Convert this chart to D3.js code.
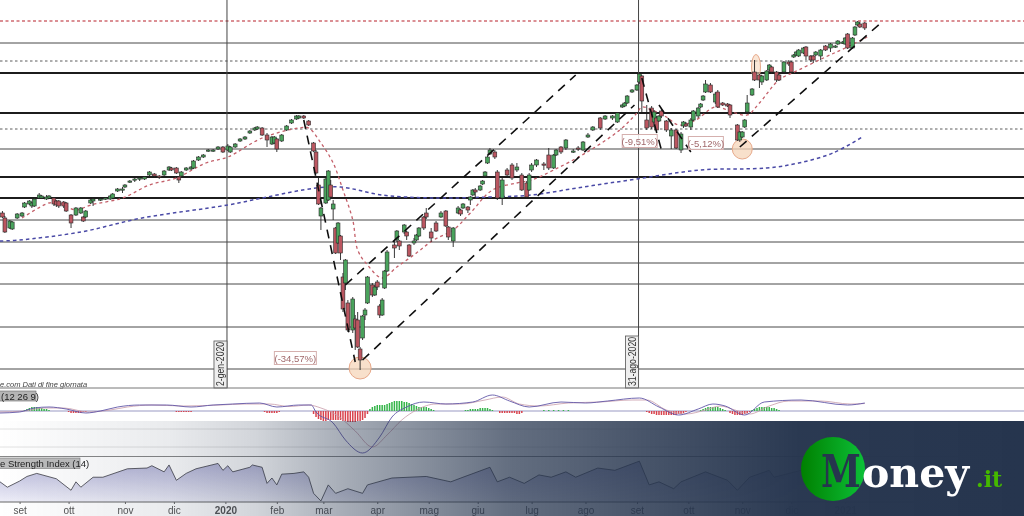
<!DOCTYPE html>
<html><head><meta charset="utf-8">
<style>html,body{margin:0;padding:0;background:#fff}svg{display:block}</style>
<script src="https://cdn.jsdelivr.net/npm/d3@7/dist/d3.min.js"></script>
</head><body><svg id="c" width="1024" height="516"></svg>
<script>
// ---------- DATA ----------
const sessions=[1,2,4,5,7,9,10,12,13,14,16,17,19,20,22,23,24,26,27,29,31,33,34,35,37,38,41,43,45,46,48,50,51,53,55,57,59,61,63,65,67,69,70,72,73,74,76,78,79,81,83,85,87,89,91,93,94,96,98,100,102,104,105,107,109,111,112,113,115,117,119,121,122,124,126,128,129,130,131,133,134,135,136,137,138,139,140,141,142,144,145,146,147,148,149,150,152,153,154,155,156,157,158,161,162,163,165,166,167,169,170,171,173,174,176,178,180,182,183,185,187,188,189,191,192,193,194,196,197,198,199,200,202,203,205,207,209,211,213,215,216,217,219,222,224,226,227,229,231,234,236,238,240,242,245,247,250,252,254,255,256,258,260,261,262,264,266,267,268,269,270,272,274,276,278,279,280,282,283,285,286,287,288,290,292,293,295,297,298,301,302,303,304,305,307,308,310,311,313,314,315,317,318,320,322,323,324,325,326,328,329,331,332,333,335,337,339,341,342,344,345,346,348,349,350,351,353];
const opens=[2820,2800,2760,2756,2800,2808,2844,2856,2848,2848,2880,2880,2876,2880,2880,2868,2868,2864,2860,2812,2812,2820,2804,2804,2860,2868,2872,2876,2876,2880,2908,2912,2924,2944,2952,2956,2956,2972,2976,2968,2972,2992,3000,3000,2964,2968,2992,2996,3000,3032,3044,3068,3068,3076,3084,3072,3064,3084,3108,3116,3140,3152,3156,3160,3132,3096,3100,3116,3108,3152,3180,3196,3200,3208,3188,3100,3064,2932,2808,2860,2872,2932,2836,2760,2700,2728,2564,2540,2460,2352,2396,2392,2276,2320,2412,2460,2532,2492,2544,2448,2412,2520,2588,2692,2712,2708,2744,2744,2692,2700,2712,2728,2804,2820,2744,2780,2804,2828,2764,2708,2820,2832,2840,2844,2872,2892,2912,2912,2936,2968,3020,3056,3064,2984,2880,2992,3012,2992,2972,2940,2912,2992,3012,3016,3052,3000,3052,3084,3080,3064,3080,3072,3124,3152,3200,3196,3200,3184,3244,3248,3260,3304,3312,3344,3368,3192,3240,3184,3200,3188,3228,3188,3128,3152,3072,3168,3176,3164,3192,3208,3244,3272,3304,3332,3264,3304,3260,3256,3252,3172,3112,3124,3164,3224,3292,3384,3372,3344,3352,3392,3404,3384,3372,3384,3424,3424,3444,3452,3448,3460,3484,3448,3448,3452,3448,3488,3480,3484,3496,3500,3496,3536,3480,3532,3572,3576,3580];
const closes=[2804,2744,2788,2784,2816,2820,2860,2868,2860,2876,2892,2888,2884,2888,2856,2852,2848,2848,2828,2780,2840,2840,2788,2828,2872,2876,2876,2880,2888,2896,2916,2916,2932,2948,2956,2960,2964,2984,2968,2964,2988,3004,2992,2980,2952,2984,3000,3004,3028,3044,3052,3072,3072,3084,3064,3088,3084,3096,3116,3124,3148,3160,3164,3132,3112,3124,3124,3076,3132,3168,3192,3208,3208,3200,3172,3068,2980,2856,2840,2956,2988,2884,2856,2660,2780,2660,2436,2632,2352,2476,2360,2284,2232,2408,2432,2564,2492,2524,2524,2412,2472,2588,2664,2680,2748,2688,2772,2728,2648,2708,2732,2760,2760,2804,2720,2748,2820,2768,2724,2760,2840,2816,2856,2832,2884,2912,2904,2928,2948,2984,3044,3072,3044,2880,2952,2972,2960,3004,2912,2884,2972,3012,3032,3012,3000,3052,3072,3064,3112,3068,3076,3104,3132,3164,3160,3208,3208,3220,3252,3260,3288,3312,3332,3376,3268,3160,3164,3224,3152,3208,3208,3152,3152,3080,3136,3184,3168,3192,3228,3240,3256,3288,3336,3304,3296,3244,3252,3248,3212,3112,3144,3144,3192,3260,3316,3352,3352,3368,3388,3412,3384,3352,3352,3424,3416,3384,3452,3464,3472,3480,3448,3432,3432,3464,3472,3472,3496,3488,3508,3504,3520,3480,3520,3564,3584,3564,3560];
const highs=[2828,2808,2792,2788,2820,2824,2864,2872,2864,2880,2900,2892,2892,2892,2884,2872,2872,2868,2864,2816,2844,2844,2808,2832,2876,2880,2880,2884,2892,2900,2920,2924,2936,2952,2960,2964,2968,2988,2980,2972,2992,3008,3004,3004,2968,2988,3004,3008,3032,3048,3056,3076,3076,3088,3088,3096,3088,3100,3120,3128,3152,3164,3168,3164,3140,3128,3128,3120,3136,3172,3196,3212,3212,3212,3192,3104,3072,2964,2844,2960,2992,2952,2872,2764,2784,2732,2580,2636,2472,2484,2412,2424,2284,2412,2440,2568,2540,2532,2552,2456,2480,2592,2672,2712,2752,2712,2776,2748,2696,2720,2736,2764,2808,2840,2760,2788,2828,2832,2768,2764,2848,2836,2860,2848,2888,2916,2920,2932,2952,2988,3048,3080,3072,2992,2960,3000,3020,3020,2980,2948,2980,3020,3036,3024,3080,3056,3076,3088,3116,3076,3088,3108,3140,3168,3204,3212,3212,3224,3256,3264,3292,3316,3336,3380,3372,3252,3248,3232,3208,3212,3240,3192,3160,3156,3144,3188,3184,3200,3232,3244,3260,3292,3352,3340,3304,3312,3264,3260,3256,3176,3148,3148,3196,3292,3320,3432,3376,3372,3392,3416,3408,3388,3376,3428,3432,3428,3456,3468,3476,3484,3488,3452,3452,3468,3476,3492,3500,3492,3512,3508,3524,3540,3524,3568,3588,3584,3584];
const lows=[2800,2740,2756,2752,2796,2804,2840,2852,2840,2844,2876,2876,2872,2876,2848,2844,2840,2840,2824,2760,2808,2816,2784,2800,2856,2848,2868,2872,2872,2876,2904,2900,2920,2940,2944,2948,2952,2968,2964,2956,2968,2988,2988,2976,2940,2964,2988,2992,2996,3028,3040,3064,3064,3072,3060,3068,3060,3080,3104,3112,3136,3148,3152,3128,3084,3092,3096,3064,3104,3148,3176,3192,3196,3196,3168,3064,2976,2852,2752,2856,2868,2876,2792,2656,2696,2632,2424,2512,2344,2340,2272,2280,2192,2312,2392,2456,2484,2488,2512,2400,2408,2516,2584,2640,2704,2672,2736,2712,2644,2692,2708,2724,2752,2796,2704,2744,2800,2764,2712,2684,2816,2808,2836,2820,2852,2888,2880,2908,2932,2964,3016,3052,3036,2872,2852,2964,2952,2984,2908,2880,2908,2984,3004,2992,2992,2996,3048,3056,3072,3060,3068,3068,3120,3148,3152,3192,3192,3180,3240,3244,3256,3300,3308,3336,3224,3152,3156,3176,3144,3184,3200,3144,3076,3076,3060,3160,3164,3152,3188,3200,3240,3268,3300,3300,3256,3240,3248,3244,3200,3108,3104,3120,3160,3220,3288,3348,3320,3332,3348,3384,3376,3344,3348,3380,3408,3380,3440,3448,3444,3456,3432,3424,3420,3448,3432,3468,3464,3480,3492,3496,3492,3476,3476,3528,3568,3560,3552];

const redMASessions=[9,20,24,31,37,50,61,72,84,93,107,122,126,131,136,140,144,146,150,156,162,170,177,185,192,201,211,217,226,239,253,260,262,266,272,277,284,292,299,305,310,318,326,337,345,354];
const redMAValues=[2800,2860,2860,2832,2852,2880,2932,2960,3020,3044,3120,3160,3160,3100,3020,2912,2792,2672,2612,2560,2604,2660,2712,2752,2820,2912,2940,2952,2992,3060,3152,3220,3244,3232,3204,3172,3192,3244,3224,3212,3260,3352,3392,3444,3480,3524];
const blueMASessions=[0,8,33,58,93,109,129,139,156,177,200,217,238,260,286,313,326,340,352];
const blueMAValues=[2708,2712,2744,2800,2852,2884,2920,2924,2892,2880,2884,2892,2924,2956,2992,3000,3020,3060,3124];

const levels=[3500,3380,3220,3076,2964,2880,2792,2704,2620,2536,2364,2196];
const levelWeights=[1,1.8,1.8,1.2,1.8,1.8,1,1,1,1,1,1];
const dashedLevels=[3428,3156];
const resistance=3588;

const trendFromSession=[124,141,148,262,269,302];
const trendFromValue=[3192,2532,2232,3360,3252,3084];
const trendToSession=[145,235,259,270,282,360];
const trendToValue=[2224,3372,3252,3072,3064,3584];

const dateMarks=[92,260];
const dateMarkLabels=["2-gen-2020","31-ago-2020"];
const drawdownLabels=["(-34,57%)","(-9,51%)","(-5,12%)"];
const drawdownSessions=[112,254,281];
const drawdownValues=[2240,3108,3100];
const circleSessions=[147,303];
const circleValues=[2200,3076];

const macdSessions=[0,8,14,20,27,35,41,48,57,68,78,87,95,106,113,122,127,129,136,141,148,155,160,166,173,182,193,201,208,216,229,239,248,261,269,277,285,291,296,304,312,327,346,353];
const macdValues=[-4,-2,6,8,4,-4,0,8,12,12,8,12,14,16,8,12,12,-2,-24,-58,-84,-52,-12,8,18,14,18,32,20,8,18,16,20,26,8,-8,4,14,10,-8,18,22,12,16];
const signalSessions=[0,10,18,26,36,45,52,62,75,90,100,110,118,126,131,138,145,152,158,164,170,178,188,198,205,212,220,232,245,258,264,272,280,288,294,300,306,314,322,335,347,353];
const signalValues=[-2,0,6,6,-2,2,8,12,10,12,14,14,9,12,6,-10,-40,-72,-48,-18,2,14,14,22,28,14,10,16,18,22,22,2,-6,2,10,2,-6,10,20,20,14,15];
const histSessions=[10,11,12,13,14,15,16,17,18,19,20,28,29,30,31,32,33,34,35,72,73,74,75,76,77,78,108,109,110,111,112,113,114,128,129,130,131,132,133,134,135,136,137,138,139,140,141,142,143,144,145,146,147,148,149,150,151,152,153,154,155,156,157,158,159,160,161,162,163,164,165,166,167,168,169,170,171,172,173,174,175,176,177,190,191,192,193,194,195,196,197,198,199,200,201,204,205,206,207,208,209,210,211,212,213,222,224,226,228,230,232,264,265,266,267,268,269,270,271,272,273,274,275,276,277,278,279,280,286,287,288,289,290,291,292,293,294,295,296,298,299,300,301,302,303,304,305,306,307,308,309,310,311,312,313,314,315,316,317,318];
const histValues=[2,4,6,8,8,8,6,6,4,4,2,-2,-4,-4,-4,-4,-4,-2,-2,-2,-2,-2,-2,-2,-2,-2,-2,-4,-4,-4,-4,-4,-2,-6,-12,-16,-18,-20,-20,-18,-18,-18,-18,-18,-18,-20,-20,-22,-22,-22,-22,-20,-20,-18,-14,-6,4,8,10,12,12,12,12,14,16,18,20,20,20,20,18,18,16,14,12,10,8,8,8,8,6,4,2,2,2,4,4,4,4,6,6,6,6,4,2,-4,-4,-4,-4,-4,-4,-4,-6,-6,-4,2,2,2,2,2,2,-2,-4,-6,-6,-8,-8,-8,-8,-8,-8,-8,-8,-8,-6,-6,-4,-2,2,4,6,8,8,8,8,8,6,4,2,-4,-6,-8,-8,-8,-8,-6,-4,-2,2,4,6,8,8,8,8,8,6,6,4,2];

const rsiSessions=[0,3,8,11,15,23,29,31,33,38,42,52,60,62,67,69,72,76,80,89,91,93,95,102,103,107,109,111,113,115,120,124,126,128,131,134,137,142,148,150,160,174,184,189,200,203,208,214,220,225,231,235,244,251,261,265,269,275,278,288,297,301,306,314,316,327,339,353];
const rsiValues=[45,38,46,52,56,49,34,45,38,51,51,62,63,66,58,67,47,56,62,69,60,66,58,64,67,64,43,50,41,55,56,58,51,30,20,41,30,36,30,41,50,52,45,51,64,45,51,43,54,51,58,51,63,60,72,41,45,36,45,58,47,34,51,60,51,60,66,71];

const monthSessions=[8,28,51,71,92,113,132,154,175,195,217,239,260,281,303,323,345];
const monthLabels=["set","ott","nov","dic","2020","feb","mar","apr","mag","giu","lug","ago","set","ott","nov","dic","2021"];

// ---------- SCALES ----------
const W=1024,H=516,priceBottom=388;
const x=d3.scaleLinear().domain([0,418]).range([0,W]);
const y=d3.scaleLinear().domain([3672,2120]).range([0,priceBottom]);
const yM=d3.scaleLinear().domain([-100,100]).range([461,361]);
const yR=d3.scaleLinear().domain([20,80]).range([501,455]);

const svg=d3.select("#c");
const defs=svg.append("defs");
const ov=defs.append("linearGradient").attr("id","ov");
[[0,0],[.166,.1],[.25,.21],[.332,.4],[.5,.72],[.625,.84],[.78,.98],[1,1]].forEach(d=>ov.append("stop").attr("offset",d[0]).attr("stop-color","#26354e").attr("stop-opacity",d[1]));
const ra=defs.append("linearGradient").attr("id","ra").attr("gradientUnits","userSpaceOnUse").attr("x1",0).attr("x2",0).attr("y1",460).attr("y2",502);
ra.append("stop").attr("offset",0).attr("stop-color","#b2b2d6");
ra.append("stop").attr("offset",1).attr("stop-color","#eeeef8");
const lg=defs.append("linearGradient").attr("id","lg");
lg.append("stop").attr("offset",0).attr("stop-color","#008000");
lg.append("stop").attr("offset",1).attr("stop-color","#0cc038");
defs.append("filter").attr("id","soft").attr("x",0).attr("y",0).attr("width",1).attr("height",1)
  .append("feGaussianBlur").attr("stdDeviation",0.45);

const chart=svg.append("g").attr("filter","url(#soft)");
chart.append("rect").attr("width",W).attr("height",H).attr("fill","#fff");

// price panel levels
chart.selectAll(".lvl").data(levels).join("line").attr("x1",0).attr("x2",W)
  .attr("y1",d=>y(d)).attr("y2",d=>y(d)).attr("stroke",(d,i)=>levelWeights[i]>1.5?"#1c1c1c":"#484848")
  .attr("stroke-width",(d,i)=>levelWeights[i]);
chart.selectAll(".dl").data(dashedLevels).join("line").attr("x1",0).attr("x2",W)
  .attr("y1",d=>y(d)).attr("y2",d=>y(d)).attr("stroke","#333").attr("stroke-width",.8).attr("stroke-dasharray","2.5,2.5");
chart.append("line").attr("x1",0).attr("x2",W).attr("y1",y(resistance)).attr("y2",y(resistance))
  .attr("stroke","#b8202a").attr("stroke-width",1.2).attr("stroke-dasharray","3,2.5");

// date verticals
chart.selectAll(".dm").data(dateMarks).join("line")
  .attr("x1",d=>x(d)+1.6).attr("x2",d=>x(d)+1.6).attr("y1",0).attr("y2",priceBottom)
  .attr("stroke","#444").attr("stroke-width",1);

// moving averages
const line=d3.line().curve(d3.curveCatmullRom);
chart.append("path").attr("d",line(blueMASessions.map((s,i)=>[x(s),y(blueMAValues[i])])))
  .attr("fill","none").attr("stroke","#4a4aa6").attr("stroke-width",1.5).attr("stroke-dasharray","3.5,3");
chart.append("path").attr("d",line(redMASessions.map((s,i)=>[x(s),y(redMAValues[i])])))
  .attr("fill","none").attr("stroke","#c4606a").attr("stroke-width",1.3).attr("stroke-dasharray","3,3");

// circles
chart.selectAll(".ci").data(circleSessions).join("circle")
  .attr("cx",d=>x(d)).attr("cy",(d,i)=>y(circleValues[i])).attr("r",(d,i)=>i?10:11)
  .attr("fill","#f6d5ba").attr("fill-opacity",.75).attr("stroke","#e7a98a");
chart.append("ellipse").attr("cx",x(308.6)).attr("cy",y(3404)).attr("rx",4.5).attr("ry",12.5)
  .attr("fill","#f6d5ba").attr("fill-opacity",.6).attr("stroke","#e7a98a");

// candles
const cg=chart.selectAll(".cd").data(sessions).join("g");
cg.append("line").attr("x1",d=>x(d)).attr("x2",d=>x(d))
  .attr("y1",(d,i)=>y(highs[i])).attr("y2",(d,i)=>y(lows[i])).attr("stroke","#222").attr("stroke-width",.9);
cg.append("rect").attr("x",d=>x(d)-1.9).attr("width",3.8)
  .attr("y",(d,i)=>y(Math.max(opens[i],closes[i])))
  .attr("height",(d,i)=>Math.max(1.2,Math.abs(y(opens[i])-y(closes[i]))))
  .attr("fill",(d,i)=>closes[i]>=opens[i]?"#4aa35c":"#bb5660").attr("stroke","#2a2a2a").attr("stroke-width",.6);

// trend lines
chart.selectAll(".tr").data(trendFromSession).join("line")
  .attr("x1",d=>x(d)).attr("y1",(d,i)=>y(trendFromValue[i]))
  .attr("x2",(d,i)=>x(trendToSession[i])).attr("y2",(d,i)=>y(trendToValue[i]))
  .attr("stroke","#111").attr("stroke-width",1.6).attr("stroke-dasharray","9,7");

// labels in price panel
const pctW=[42,35,35];
drawdownLabels.forEach((t,i)=>{
  const cx=x(drawdownSessions[i])+pctW[i]/2, cy=y(drawdownValues[i]);
  chart.append("rect").attr("x",cx-pctW[i]/2).attr("y",cy-6.5).attr("width",pctW[i]).attr("height",13)
    .attr("fill","#fff").attr("fill-opacity",.85).attr("stroke","#d5b0ae");
  chart.append("text").attr("x",cx).attr("y",cy+3.5).attr("text-anchor","middle")
    .attr("font-family","Liberation Sans").attr("font-size",9.5).attr("fill","#a0686a").text(t);
});
const dateLen=[44,49];
dateMarks.forEach((d,i)=>{
  const right=x(d)+1.6, h=i?52:47;
  chart.append("rect").attr("x",right-13).attr("y",priceBottom-h).attr("width",13).attr("height",h)
    .attr("fill","#eee").attr("stroke","#555").attr("stroke-width",.8);
  chart.append("text").attr("transform",`translate(${right-3},${priceBottom-2}) rotate(-90)`)
    .attr("font-family","Liberation Sans").attr("font-size",10).attr("fill","#333")
    .attr("textLength",dateLen[i]).attr("lengthAdjust","spacingAndGlyphs").text(dateMarkLabels[i]);
});
chart.append("text").attr("x",0).attr("y",386.5).attr("font-family","Liberation Sans").attr("font-size",7.5)
  .attr("font-style","italic").attr("fill","#444").text("e.com  Dati di fine giornata");
chart.append("line").attr("x1",0).attr("x2",W).attr("y1",priceBottom).attr("y2",priceBottom).attr("stroke","#777");

// MACD panel
[429,447].forEach(v=>chart.append("line").attr("x1",0).attr("x2",W).attr("y1",v).attr("y2",v).attr("stroke","#e2e2e2"));
chart.append("line").attr("x1",0).attr("x2",W).attr("y1",yM(0)).attr("y2",yM(0)).attr("stroke","#9a9ac4").attr("stroke-width",1.2);
chart.selectAll(".h").data(histSessions).join("rect")
  .attr("x",d=>x(d)-.75).attr("width",1.5)
  .attr("y",(d,i)=>Math.min(yM(0),yM(histValues[i])))
  .attr("height",(d,i)=>Math.abs(yM(histValues[i])-yM(0)))
  .attr("fill",(d,i)=>histValues[i]>0?"#35b54a":"#d9434d");
const lineS=d3.line().curve(d3.curveMonotoneX);
chart.append("path").attr("d",lineS(signalSessions.map((s,i)=>[x(s),yM(signalValues[i])])))
  .attr("fill","none").attr("stroke","#c89aa8").attr("stroke-width",.8);
chart.append("path").attr("d",lineS(macdSessions.map((s,i)=>[x(s),yM(macdValues[i])])))
  .attr("fill","none").attr("stroke","#6258a8").attr("stroke-width",.9);
chart.append("rect").attr("x",-1).attr("y",391).attr("width",37).attr("height",10).attr("fill","#b5b5b5").attr("stroke","#666").attr("stroke-width",.6);
chart.append("text").attr("x",1).attr("y",399.5).attr("font-family","Liberation Sans").attr("font-size",9.5).attr("fill","#222").text("(12 26 9)");

// RSI panel
chart.append("line").attr("x1",0).attr("x2",W).attr("y1",456.5).attr("y2",456.5).attr("stroke","#888");
const rsiBase=502;
const rsiPts=rsiSessions.map((s,i)=>[x(s),yR(rsiValues[i])]);
chart.append("path").attr("d",d3.area().y0(rsiBase).x(d=>d[0]).y1(d=>d[1])(rsiPts)).attr("fill","url(#ra)");
chart.append("path").attr("d",d3.line()(rsiPts)).attr("fill","none").attr("stroke","#3c3c44").attr("stroke-width",.8);
chart.append("rect").attr("x",-1).attr("y",458).attr("width",81).attr("height",10.5).attr("fill","#bdbdbd").attr("stroke","#777").attr("stroke-width",.6);
chart.append("text").attr("x",0).attr("y",467).attr("font-family","Liberation Sans").attr("font-size",9.5).attr("fill","#222").text("e Strength Index (14)");

// month axis
const ax=chart.append("g").attr("transform",`translate(0,${rsiBase})`)
  .call(d3.axisBottom(x).tickValues(monthSessions).tickSize(2).tickPadding(3).tickFormat((d,i)=>monthLabels[i]));
ax.select(".domain").attr("stroke","#666").attr("d",`M0,0H${W}`);
ax.selectAll("text").attr("font-family","Liberation Sans").attr("font-size",10).attr("fill","#555")
  .attr("font-weight",d=>(d===92||d===345)?"bold":"normal");
ax.selectAll("line").attr("stroke","#666");

// banner overlay
svg.append("rect").attr("x",0).attr("y",421).attr("width",W).attr("height",95).attr("fill","url(#ov)");

// logo
svg.append("circle").attr("cx",833).attr("cy",469).attr("r",32).attr("fill","url(#lg)");
svg.append("text").attr("transform","translate(821,487) scale(.8,1)").attr("font-family","DejaVu Serif").attr("font-weight","bold")
  .attr("font-size",45).attr("fill","#26354e").text("M");
svg.append("text").attr("x",862).attr("y",487).attr("font-family","DejaVu Serif").attr("font-weight","bold")
  .attr("font-size",41).attr("fill","#fff").text("oney");
svg.append("text").attr("x",976).attr("y",487).attr("font-family","DejaVu Serif").attr("font-weight","bold")
  .attr("font-size",22).attr("fill","#45b800").text(".it");
</script></body></html>
